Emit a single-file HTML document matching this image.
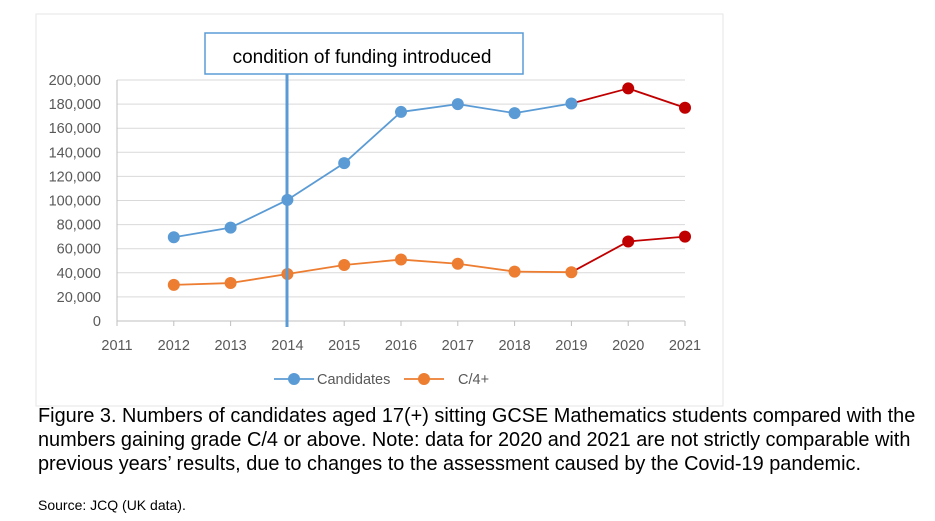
<!DOCTYPE html>
<html><head><meta charset="utf-8"><style>
body{margin:0;background:#fff;width:935px;height:521px;overflow:hidden;font-family:"Liberation Sans",Arial,sans-serif}
svg{position:absolute;left:0;top:0}
.cap{position:absolute;left:38px;top:404px;font-size:19.9px;line-height:24px;color:#000;white-space:nowrap}
.src{position:absolute;left:38px;top:497px;font-size:14px;color:#000}
</style></head><body>
<svg width="935" height="521" id="chart">
<rect x="36" y="14" width="687" height="392" fill="#fff" stroke="#e6e6e6"/>
</svg>
<div class="cap">Figure 3. Numbers of candidates aged 17(+) sitting GCSE Mathematics students compared with the<br>numbers gaining grade C/4 or above. Note: data for 2020 and 2021 are not strictly comparable with<br>previous years’ results, due to changes to the assessment caused by the Covid-19 pandemic.</div>
<div class="src">Source: JCQ (UK data).</div>
<script>
const years=[2011,2012,2013,2014,2015,2016,2017,2018,2019,2020,2021];
const dataYears=[2012,2013,2014,2015,2016,2017,2018,2019,2020,2021];
const candidates=[69500,77500,100500,131000,173500,180000,172500,180500,193000,177000];
const c4plus=[30000,31500,39000,46500,51000,47500,41000,40500,66000,70000];
const yTicks=[0,20000,40000,60000,80000,100000,120000,140000,160000,180000,200000];
const svg=document.getElementById('chart');const NS='http://www.w3.org/2000/svg';
const X=y=>117+(y-2011)*56.8, Y=v=>321-v*(241/200000);
function mk(t,a,p){const e=document.createElementNS(NS,t);for(const k in a)e.setAttribute(k,a[k]);(p||svg).appendChild(e);return e;}
yTicks.forEach(v=>{
 if(v>0){const g=mk('line',{x1:117,x2:685,y1:Y(v),y2:Y(v),stroke:'#d9d9d9'});
 
 }
 const t=mk('text',{x:101,y:Y(v)+5,'text-anchor':'end','font-size':14.5,fill:'#595959','font-family':'Liberation Sans,sans-serif'});t.textContent=v.toLocaleString('en-US');
 
 
});
const ax=mk('line',{x1:117,x2:685,y1:321,y2:321,stroke:'#bfbfbf'});


const ay=mk('line',{x1:117,x2:117,y1:80,y2:321,stroke:'#bfbfbf'});


years.forEach(y=>{
 const tk=mk('line',{x1:X(y),x2:X(y),y1:321,y2:326,stroke:'#bfbfbf'});
 
 
 const t=mk('text',{x:X(y),y:350,'text-anchor':'middle','font-size':14.5,fill:'#595959','font-family':'Liberation Sans,sans-serif'});t.textContent=y;
 
 
});
function series(vals,col,name){
 for(let i=0;i<vals.length-1;i++){
  const c=dataYears[i+1]>=2020?'#c00000':col;
  const l=mk('line',{x1:X(dataYears[i]),y1:Y(vals[i]),x2:X(dataYears[i+1]),y2:Y(vals[i+1]),stroke:c,'stroke-width':1.8});
  
  
 }
 vals.forEach((v,i)=>{
  const c=mk('circle',{cx:X(dataYears[i]),cy:Y(v),r:6,fill:dataYears[i]>=2020?'#c00000':col});
  
  
 });
}
series(candidates,'#5b9bd5','candidates');
series(c4plus,'#ed7d31','c4plus');
const vl=mk('line',{x1:287,x2:287,y1:74,y2:327,stroke:'#5b9bd5','stroke-width':3});


const bx=mk('rect',{x:205,y:33,width:318,height:41,fill:'#fff',stroke:'#5b9bd5','stroke-width':1.5});


const at=mk('text',{x:362,y:63,'text-anchor':'middle','font-size':19,fill:'#000','font-family':'Liberation Sans,sans-serif'});at.textContent='condition of funding introduced';


[[274,'#5b9bd5','Candidates',317],[404,'#ed7d31','C/4+',458]].forEach(([x,c,lab,tx])=>{
 const g=mk('g',{});
 
 
 mk('line',{x1:x,x2:x+40,y1:379,y2:379,stroke:c,'stroke-width':1.8},g);
 mk('circle',{cx:x+20,cy:379,r:6,fill:c},g);
 const t=mk('text',{x:tx,y:384,'font-size':14.5,fill:'#595959','font-family':'Liberation Sans,sans-serif'},g);t.textContent=lab;
});
</script>
</body></html>
